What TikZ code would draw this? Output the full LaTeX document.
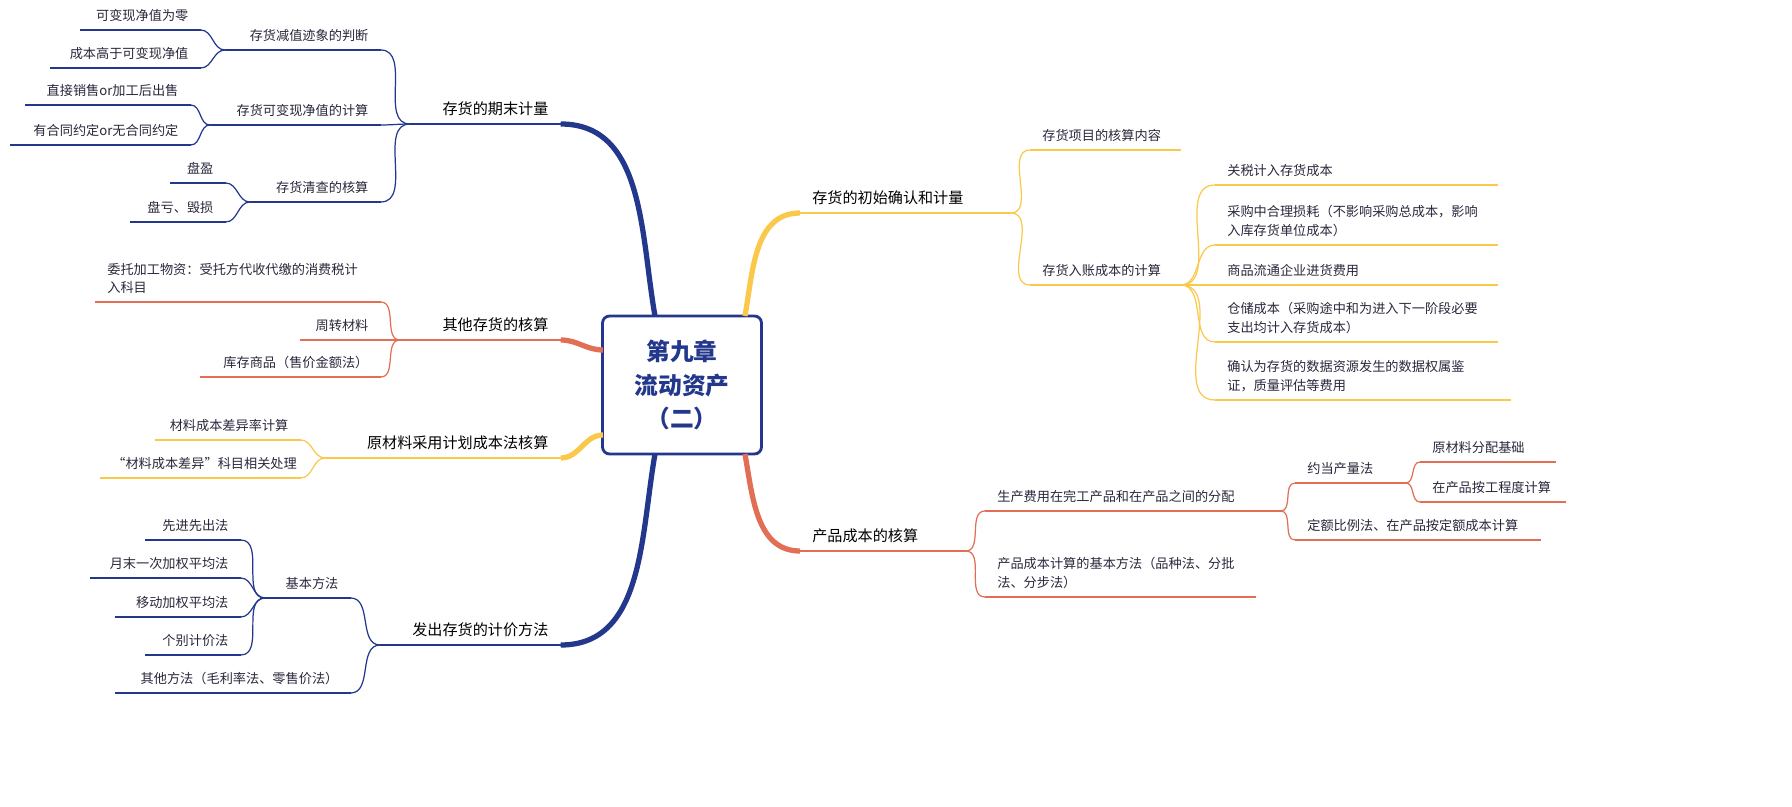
\documentclass[tikz,border=0pt]{standalone}
\usepackage{fontspec}
\setmainfont{Noto Sans CJK SC}
\usetikzlibrary{positioning,calc}

\definecolor{mmnavy}{RGB}{35,55,140}
\definecolor{mmyellow}{RGB}{250,200,75}
\definecolor{mmorange}{RGB}{225,110,85}
\definecolor{mmtext}{RGB}{40,40,60}

\tikzset{
    mmlabel/.style={font=\fontsize{7.5}{10.5}\selectfont, text=mmtext, inner xsep=0.24cm, inner ysep=0.16cm, anchor=south west, align=left},
    mmmain/.style={font=\fontsize{8.6}{11}\selectfont, text=black},
    mmlink/.style={line width=0.7pt},
    mmthick/.style={line width=3pt},
}

% underlined mind-map label: [opts]{name}{x1}{x2}{y}{colour}{text}
\newcommand\mmnode[7][]{%
    \pgfmathsetmacro\mmtw{(#4-#3)*0.02-0.48}%
    \node[mmlabel, text width=\mmtw cm, #1] (#2) at (#3,#5) {#7};
    \draw[#6, mmlink] (#2.south west) -- (#2.south east);
}

\begin{document}
\begin{tikzpicture}[x=0.02cm, y=-0.02cm]
    % Centre
    \node[draw=mmnavy, line width=1.6pt, rounded corners=4pt, minimum width=3.18cm, minimum height=2.76cm,
          align=center, font=\fontsize{13.5}{19}\selectfont\bfseries, text=mmnavy] (ch) at (682,385) {第九章\\流动资产\\（二）};
    \coordinate (ch-ne) at (745,316);
    \coordinate (ch-se) at (745,454);
    \coordinate (ch-nw) at (655,316);
    \coordinate (ch-sw) at (655,454);
    \coordinate (ch-w1) at (603,350);
    \coordinate (ch-w2) at (603,435);

    % Right: initial recognition
    \mmnode[mmmain]{b1}{800}{1010}{213}{mmyellow}{存货的初始确认和计量}
    \mmnode{b11}{1030}{1180}{150}{mmyellow}{存货项目的核算内容}
    \mmnode{b12}{1030}{1180}{285}{mmyellow}{存货入账成本的计算}
    \mmnode{b121}{1215}{1497}{185}{mmyellow}{关税计入存货成本}
    \mmnode{b122}{1215}{1497}{245}{mmyellow}{采购中合理损耗（不影响采购总成本，影响\\入库存货单位成本）}
    \mmnode{b123}{1215}{1497}{285}{mmyellow}{商品流通企业进货费用}
    \mmnode{b124}{1215}{1497}{342}{mmyellow}{仓储成本（采购途中和为进入下一阶段必要\\支出均计入存货成本）}
    \mmnode{b125}{1215}{1510}{400}{mmyellow}{确认为存货的数据资源发生的数据权属鉴\\证，质量评估等费用}
    \draw[mmyellow, mmthick] (ch-ne) to[out=80, in=180] (b1.south west);
    \foreach \c in {b11,b12}
        \draw[mmyellow, mmlink] (b1.south east) to[out=0, in=180] (\c.south west);
    \foreach \c in {b121,b122,b123,b124,b125}
        \draw[mmyellow, mmlink] (b12.south east) to[out=0, in=180] (\c.south west);

    % Right: product cost
    \mmnode[mmmain]{b2}{800}{965}{551}{mmorange}{产品成本的核算}
    \mmnode{b21}{985}{1280}{511}{mmorange}{生产费用在完工产品和在产品之间的分配}
    \mmnode{b22}{985}{1255}{597}{mmorange}{产品成本计算的基本方法（品种法、分批\\法、分步法）}
    \mmnode{b211}{1295}{1405}{483}{mmorange}{约当产量法}
    \mmnode{b212}{1295}{1540}{540}{mmorange}{定额比例法、在产品按定额成本计算}
    \mmnode{b2111}{1420}{1555}{462}{mmorange}{原材料分配基础}
    \mmnode{b2112}{1420}{1565}{502}{mmorange}{在产品按工程度计算}
    \draw[mmorange, mmthick] (ch-se) to[out=-80, in=180] (b2.south west);
    \foreach \c in {b21,b22}
        \draw[mmorange, mmlink] (b2.south east) to[out=0, in=180] (\c.south west);
    \foreach \c in {b211,b212}
        \draw[mmorange, mmlink] (b21.south east) to[out=0, in=180] (\c.south west);
    \foreach \c in {b2111,b2112}
        \draw[mmorange, mmlink] (b211.south east) to[out=0, in=180] (\c.south west);

    % Left: period-end measurement
    \mmnode[mmmain, align=right]{a1}{410}{560}{124}{mmnavy}{存货的期末计量}
    \mmnode[align=right]{a11}{225}{380}{50}{mmnavy}{存货减值迹象的判断}
    \mmnode[align=right]{a12}{210}{380}{125}{mmnavy}{存货可变现净值的计算}
    \mmnode[align=right]{a13}{250}{380}{202}{mmnavy}{存货清查的核算}
    \mmnode[align=right]{a111}{80}{200}{30}{mmnavy}{可变现净值为零}
    \mmnode[align=right]{a112}{50}{200}{68}{mmnavy}{成本高于可变现净值}
    \mmnode[align=right]{a121}{25}{190}{105}{mmnavy}{直接销售or加工后出售}
    \mmnode[align=right]{a122}{10}{190}{145}{mmnavy}{有合同约定or无合同约定}
    \mmnode[align=right]{a131}{170}{225}{183}{mmnavy}{盘盈}
    \mmnode[align=right]{a132}{130}{225}{222}{mmnavy}{盘亏、毁损}
    \draw[mmnavy, mmthick] (ch-nw) to[out=100, in=0] (a1.south east);
    \foreach \c in {a11,a12,a13}
        \draw[mmnavy, mmlink] (a1.south west) to[out=180, in=0] (\c.south east);
    \foreach \p/\c in {a11/a111,a11/a112,a12/a121,a12/a122,a13/a131,a13/a132}
        \draw[mmnavy, mmlink] (\p.south west) to[out=180, in=0] (\c.south east);

    % Left: other inventories
    \mmnode[mmmain, align=right]{a2}{400}{560}{340}{mmorange}{其他存货的核算}
    \mmnode{a21}{95}{380}{302}{mmorange}{委托加工物资：受托方代收代缴的消费税计\\入科目}
    \mmnode[align=right]{a22}{300}{380}{340}{mmorange}{周转材料}
    \mmnode[align=right]{a23}{200}{380}{377}{mmorange}{库存商品（售价金额法）}
    \draw[mmorange, mmthick] (ch-w1) to[out=180, in=0] (a2.south east);
    \foreach \c in {a21,a22,a23}
        \draw[mmorange, mmlink] (a2.south west) to[out=180, in=0] (\c.south east);

    % Left: planned cost
    \mmnode[mmmain, align=right]{a3}{325}{560}{458}{mmyellow}{原材料采用计划成本法核算}
    \mmnode[align=right]{a31}{155}{300}{440}{mmyellow}{材料成本差异率计算}
    \mmnode[align=right]{a32}{100}{300}{478}{mmyellow}{“材料成本差异”科目相关处理}
    \draw[mmyellow, mmthick] (ch-w2) to[out=180, in=0] (a3.south east);
    \foreach \c in {a31,a32}
        \draw[mmyellow, mmlink] (a3.south west) to[out=180, in=0] (\c.south east);

    % Left: issue pricing
    \mmnode[mmmain, align=right]{a4}{380}{560}{645}{mmnavy}{发出存货的计价方法}
    \mmnode[align=right]{a41}{265}{350}{598}{mmnavy}{基本方法}
    \mmnode[align=right]{a42}{115}{350}{693}{mmnavy}{其他方法（毛利率法、零售价法）}
    \mmnode[align=right]{a411}{145}{240}{540}{mmnavy}{先进先出法}
    \mmnode[align=right]{a412}{90}{240}{578}{mmnavy}{月末一次加权平均法}
    \mmnode[align=right]{a413}{115}{240}{617}{mmnavy}{移动加权平均法}
    \mmnode[align=right]{a414}{145}{240}{655}{mmnavy}{个别计价法}
    \draw[mmnavy, mmthick] (ch-sw) to[out=-100, in=0] (a4.south east);
    \foreach \c in {a41,a42}
        \draw[mmnavy, mmlink] (a4.south west) to[out=180, in=0] (\c.south east);
    \foreach \c in {a411,a412,a413,a414}
        \draw[mmnavy, mmlink] (a41.south west) to[out=180, in=0] (\c.south east);

    \pgfresetboundingbox
    \useasboundingbox (0,0) rectangle (1792,807);
\end{tikzpicture}
\end{document}
